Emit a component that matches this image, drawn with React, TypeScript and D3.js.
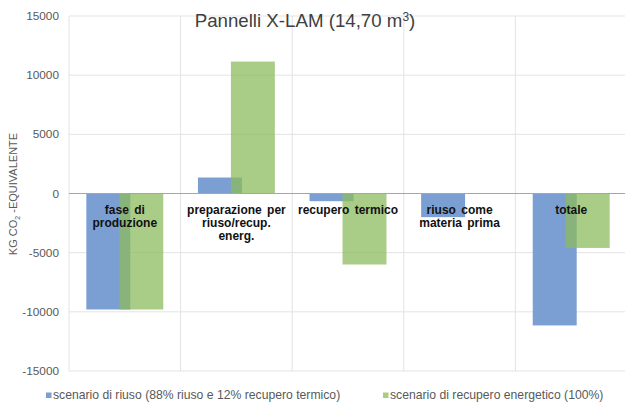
import React from "react";
import * as d3 from "d3";

const categories = ["fase di produzione", "preparazione per riuso/recup. energ.", "recupero termico", "riuso come materia prima", "totale"];
const categoryLines = [["fase di", "produzione"], ["preparazione per", "riuso/recup.", "energ."], ["recupero termico"], ["riuso come", "materia prima"], ["totale"]];
const riuso = [-9800, 1350, -650, -2000, -11150];
const energetico = [-9800, 11150, -6000, 0, -4600];
const yTicks = [-15000, -10000, -5000, 0, 5000, 10000, 15000];
const seriesNames = ["scenario di riuso (88% riuso e 12% recupero termico)", "scenario di recupero energetico (100%)"];

const W = 625;
const H = 406;
const font = "Liberation Sans, Arial, sans-serif";

export default function App() {
  const x = d3.scaleBand<string>().domain(categories).range([69, 627]).padding(0);
  const y = d3.scaleLinear().domain([-15000, 15000]).range([371, 16]);
  const band = x.bandwidth();
  const bw = band * 0.394;
  const off = (band - 1.75 * bw) / 2;

  const bar = (v: number) => ({ y: Math.min(y(v), y(0)), h: Math.abs(y(v) - y(0)) });

  return (
    <svg width={W} height={H} style={{ position: "absolute", left: 0, top: 0, background: "#fff" }} fontFamily={font}>
      {/* grid */}
      {yTicks.map(t => (
        <line key={t} x1={69} x2={W} y1={y(t)} y2={y(t)} stroke="#e3e3e3" strokeWidth={1} />
      ))}
      {categories.map(c => (
        <line key={c} x1={x(c)!} x2={x(c)!} y1={y(15000)} y2={y(-15000)} stroke="#e3e3e3" strokeWidth={1} />
      ))}
      {/* bars */}
      {categories.map((c, i) => {
        const b = bar(riuso[i]);
        return <rect key={"b" + i} x={x(c)! + off} y={b.y} width={bw} height={b.h} fill="#7b9fd3" />;
      })}
      {categories.map((c, i) => {
        const b = bar(energetico[i]);
        return <rect key={"g" + i} x={x(c)! + off + 0.75 * bw} y={b.y} width={bw} height={b.h} fill="#8cbb5e" fillOpacity={0.75} />;
      })}
      {/* zero line */}
      <line x1={69} x2={W} y1={y(0)} y2={y(0)} stroke="#a6a6a6" strokeWidth={1.2} />
      {/* y tick labels */}
      {yTicks.map(t => (
        <text key={t} x={59} y={y(t) + 4} textAnchor="end" fontSize={11.8} fill="#595959">{t}</text>
      ))}
      {/* category labels */}
      {categories.map((c, i) => (
        <text key={c} x={x(c)! + band / 2} textAnchor="middle" fontSize={12} fontWeight="bold" fill="#111" wordSpacing={2}>
          {categoryLines[i].map((l, j) => (
            <tspan key={j} x={x(c)! + band / 2} y={214 + j * 13}>{l}</tspan>
          ))}
        </text>
      ))}
      {/* title */}
      <text x={305} y={27} textAnchor="middle" fontSize={18.7} fill="#404040">
        Pannelli X-LAM (14,70 m<tspan dy={-6} fontSize={12}>3</tspan><tspan dy={6}>)</tspan>
      </text>
      {/* y axis title */}
      <text transform={`translate(17,194) rotate(-90)`} textAnchor="middle" fontSize={11} fill="#595959">
        KG CO<tspan dy={3} fontSize={7}>2</tspan><tspan dy={-3}> -EQUIVALENTE</tspan>
      </text>
      {/* legend */}
      {seriesNames.map((s, i) => {
        const lx = i === 0 ? 46 : 383;
        return (
          <g key={s}>
            <rect x={lx} y={392.5} width={5.5} height={5.5} fill={i === 0 ? "#7b9fd3" : "#a9cc86"} />
            <text x={lx + 7} y={398.5} fontSize={12.2} fill="#595959">{s}</text>
          </g>
        );
      })}
    </svg>
  );
}
